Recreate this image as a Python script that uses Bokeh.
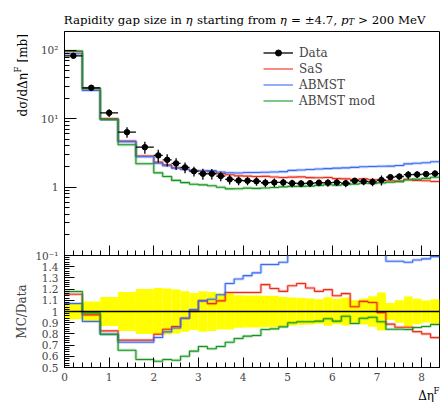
import numpy as np
from bokeh.plotting import figure
from bokeh.models import (Range1d, FixedTicker, CustomJSTickFormatter, Label,
                          Legend, LegendItem, Span)
from bokeh.layouts import column, row
from bokeh.embed import file_html
from bokeh.resources import INLINE

# ---------------- data ----------------
bin_edges = [0.0, 0.4, 0.8, 1.2, 1.6, 2.0, 2.2, 2.4, 2.6, 2.8, 3.0, 3.2, 3.4, 3.6,
             3.8, 4.0, 4.2, 4.4, 4.6, 4.8, 5.0, 5.2, 5.4, 5.6, 5.8, 6.0, 6.2, 6.4,
             6.6, 6.8, 7.0, 7.2, 7.4, 7.6, 7.8, 8.0, 8.2, 8.4]

data_xsec = [83.4, 28.4, 12.2, 6.37, 3.84, 2.91, 2.51, 2.22, 1.94, 1.71, 1.57, 1.57,
             1.45, 1.30, 1.25, 1.24, 1.22, 1.16, 1.17, 1.17, 1.14, 1.13, 1.14, 1.16,
             1.16, 1.17, 1.14, 1.24, 1.21, 1.19, 1.27, 1.40, 1.43, 1.52, 1.53, 1.55, 1.58]

data_relerr = [0.07, 0.09, 0.13, 0.175, 0.20, 0.21, 0.205, 0.196, 0.18, 0.165, 0.18,
               0.175, 0.16, 0.16, 0.145, 0.143, 0.143, 0.14, 0.14, 0.13, 0.125, 0.12,
               0.116, 0.11, 0.128, 0.113, 0.125, 0.10, 0.116, 0.137, 0.17, 0.077, 0.10,
               0.134, 0.113, 0.098, 0.11]

sas_ratio = [1.154, 0.970, 0.827, 0.744, 0.744, 0.797, 0.842, 0.866, 0.94, 1.005, 1.095,
             1.07, 1.095, 1.17, 1.17, 1.17, 1.17, 1.24, 1.205, 1.18, 1.23, 1.25, 1.21,
             1.18, 1.195, 1.14, 1.16, 1.042, 1.09, 1.08, 0.99, 0.887, 0.86, 0.86, 0.82,
             0.80, 0.767]

abmst_ratio = [1.071, 0.911, 0.797, 0.726, 0.726, 0.768, 0.818, 0.853, 0.94, 1.018, 1.095,
               1.11, 1.15, 1.25, 1.29, 1.32, 1.345, 1.42, 1.42, 1.44, 1.54, 1.575, 1.59,
               1.59, 1.61, 1.62, 1.68, 1.57, 1.64, 1.68, 1.59, 1.449, 1.449, 1.44, 1.46,
               1.47, 1.49]

abmst_mod_ratio = [1.178, 0.988, 0.797, 0.654, 0.571, 0.556, 0.571, 0.565, 0.601, 0.646,
                   0.688, 0.667, 0.688, 0.726, 0.759, 0.780, 0.786, 0.839, 0.845, 0.863,
                   0.899, 0.908, 0.908, 0.914, 0.935, 0.914, 0.958, 0.893, 0.94, 0.949,
                   0.908, 0.842, 0.842, 0.839, 0.857, 0.866, 0.884]

x_tick_values = [0, 1, 2, 3, 4, 5, 6, 7, 8]
top_tick_values = [0.1, 1, 10, 100]
ratio_tick_values = [0.5, 0.6, 0.7, 0.8, 0.9, 1.0, 1.1, 1.2, 1.3, 1.4]

# ---------------- style ----------------
FONT = "DejaVu Serif"
RED = "#EE2C1A"
BLUE = "#3A6BF5"
GREEN = "#17961F"

edges = np.array(bin_edges)
lo, hi = edges[:-1], edges[1:]
mid = 0.5 * (lo + hi)
data = np.array(data_xsec)
relerr = np.array(data_relerr)
err = data * relerr


def step_y(vals):
    vals = list(vals)
    return vals + [vals[-1]]


def blank_fig(w, h):
    f = figure(width=w, height=h, x_range=Range1d(0, w), y_range=Range1d(0, h),
               output_backend="svg", toolbar_location=None, min_border=0,
               x_axis_location=None, y_axis_location=None, frame_align=False)
    f.outline_line_color = None
    f.grid.visible = False
    return f


def add_text(f, txt, x, y, size="12px", style="normal", align="left", angle=0.0):
    f.add_layout(Label(x=x, y=y, text=txt, angle=angle, text_font=FONT,
                       text_font_size=size, text_font_style=style, text_align=align,
                       text_baseline="alphabetic", text_color="black"))


x_minor = [round(0.2 * i, 1) for i in range(43)]
log_minor = [m * 10.0 ** e for e in (-1, 0, 1, 2) for m in range(2, 10) if m * 10.0 ** e < 189]
ratio_minor = [round(0.5 + 0.02 * i, 2) for i in range(51)]

# ---------------- title strip (coordinates = pixels, y up) ----------------
title_fig = blank_fig(440, 31)
TB = 31 - 19.3
for txt, x, y, style, size in [("Rapidity gap size in", 63.3, TB, "normal", "11.8px"),
                               ("\u03b7", 185.0, TB, "italic", "11.8px"),
                               ("starting from", 196.4, TB, "normal", "11.8px"),
                               ("\u03b7", 279.3, TB, "italic", "11.8px"),
                               ("= \u00b14.7,", 290.6, TB, "normal", "11.8px"),
                               ("p", 340.5, TB, "italic", "11.8px"),
                               ("T", 348.1, TB - 2.5, "italic", "8.5px"),
                               ("> 200 MeV", 357.5, TB, "normal", "11.8px")]:
    add_text(title_fig, txt, x, y, size=size, style=style)

# ---------------- y label strip for the top panel ----------------
ylab_fig = blank_fig(28, 230)
add_text(ylab_fig, "d\u03c3/d\u0394\u03b7", 22, 230 - 85, angle=np.pi / 2)
add_text(ylab_fig, "F", 17.5, 230 - 41, size="8.5px", angle=np.pi / 2)
add_text(ylab_fig, "[mb]", 22, 230 - 31, angle=np.pi / 2)

# ---------------- top panel ----------------
top = figure(frame_width=375, frame_height=224, x_range=Range1d(0, 8.4),
             y_range=Range1d(0.1, 189), y_axis_type="log",
             output_backend="svg", toolbar_location=None,
             min_border_left=36, min_border_right=1, min_border_top=0,
             min_border_bottom=6)
top.grid.visible = False
top.outline_line_color = "black"
top.outline_line_alpha = 1.0

xa = top.xaxis[0]
xa.ticker = FixedTicker(ticks=x_tick_values, minor_ticks=x_minor)
xa.formatter = CustomJSTickFormatter(code="return '';")
xa.major_label_text_font_size = "0px"
xa.major_label_standoff = 0
xa.major_tick_in, xa.major_tick_out = 10, 0
xa.minor_tick_in, xa.minor_tick_out = 5, 0

ya = top.yaxis[0]
ya.ticker = FixedTicker(ticks=top_tick_values, minor_ticks=log_minor)
ya.formatter = CustomJSTickFormatter(code="""
const e = Math.round(Math.log10(tick));
if (e == 0) return '1';
const sup = {'-1': '\u207b\u00b9', '1': '\u00b9', '2': '\u00b2'};
return '10' + sup[String(e)];
""")
ya.major_tick_in, ya.major_tick_out = 12, 0
ya.minor_tick_in, ya.minor_tick_out = 5, 0
ya.major_label_text_font = FONT
ya.major_label_text_font_size = "10.5px"
ya.major_label_standoff = 6

renderers = {}
for name, ratio, color in [("SaS", sas_ratio, RED), ("ABMST", abmst_ratio, BLUE),
                           ("ABMST mod", abmst_mod_ratio, GREEN)]:
    mc = data * np.array(ratio)
    top.step(x=edges, y=step_y(mc), mode="after", line_color=color, line_width=3, line_alpha=0.28)
    renderers[name] = top.step(x=edges, y=step_y(mc), mode="after", line_color=color, line_width=1.1)

hseg = top.segment(x0=lo, y0=data, x1=hi, y1=data, line_color="black", line_width=1.3)
vseg = top.segment(x0=mid, y0=data - err, x1=mid, y1=data + err, line_color="black", line_width=1.3)
pts = top.scatter(x=mid, y=data, size=5.5, marker="circle", fill_color="black", line_color="black")

legend = Legend(items=[LegendItem(label="Data", renderers=[hseg, pts]),
                       LegendItem(label="SaS", renderers=[renderers["SaS"]]),
                       LegendItem(label="ABMST", renderers=[renderers["ABMST"]]),
                       LegendItem(label="ABMST mod", renderers=[renderers["ABMST mod"]])],
                location=(199, 147))
legend.border_line_alpha = 0
legend.background_fill_alpha = 0
legend.label_text_font = FONT
legend.label_text_font_size = "12px"
legend.glyph_width = 30
legend.glyph_height = 15
legend.label_height = 15
legend.spacing = 1
legend.padding = 0
legend.margin = 0
legend.label_standoff = 6
top.add_layout(legend)

# ---------------- ratio panel ----------------
bot = figure(frame_width=375, frame_height=112, x_range=top.x_range,
             y_range=Range1d(0.5, 1.5), output_backend="svg", toolbar_location=None,
             min_border_left=64, min_border_right=1, min_border_top=0,
             min_border_bottom=18, margin=(-6, 0, 0, 0))
bot.border_fill_alpha = 0
bot.grid.visible = False
bot.outline_line_color = "black"
bot.outline_line_alpha = 1.0

bot.quad(left=lo, right=hi, bottom=1 - relerr, top=1 + relerr,
         fill_color="#FFFF00", line_color=None)
bot.add_layout(Span(location=1.0, dimension="width", line_color="black", line_width=1.3))
for ratio, color in [(sas_ratio, RED), (abmst_ratio, BLUE), (abmst_mod_ratio, GREEN)]:
    bot.step(x=edges, y=step_y(ratio), mode="after", line_color=color, line_width=3, line_alpha=0.28)
    bot.step(x=edges, y=step_y(ratio), mode="after", line_color=color, line_width=1.1)

bx = bot.xaxis[0]
bx.ticker = FixedTicker(ticks=x_tick_values, minor_ticks=x_minor)
bx.major_tick_in, bx.major_tick_out = 10, 0
bx.minor_tick_in, bx.minor_tick_out = 5, 0
bx.major_label_text_font = FONT
bx.major_label_text_font_size = "10.5px"
bx.major_label_standoff = 5

by = bot.yaxis[0]
by.ticker = FixedTicker(ticks=ratio_tick_values, minor_ticks=ratio_minor)
by.formatter = CustomJSTickFormatter(code="return Math.abs(tick - 1) < 1e-6 ? '1' : tick.toFixed(1);")
by.major_tick_in, by.major_tick_out = 10, 0
by.minor_tick_in, by.minor_tick_out = 5, 0
by.major_label_text_font = FONT
by.major_label_text_font_size = "10.5px"
by.major_label_standoff = 6
by.axis_label = "MC/Data"
by.axis_label_text_font = FONT
by.axis_label_text_font_size = "12px"
by.axis_label_text_font_style = "normal"
by.axis_label_standoff = 10

# ---------------- x label strip ----------------
xlab_fig = blank_fig(440, 17)
add_text(xlab_fig, "\u0394\u03b7", 433.5, 17 - 10, align="right")
add_text(xlab_fig, "F", 439, 17 - 5, size="8.5px", align="right")

layout = column(title_fig, row(ylab_fig, top, spacing=0), bot, xlab_fig, spacing=0)
open("out.html", "w").write(file_html(layout, INLINE))
